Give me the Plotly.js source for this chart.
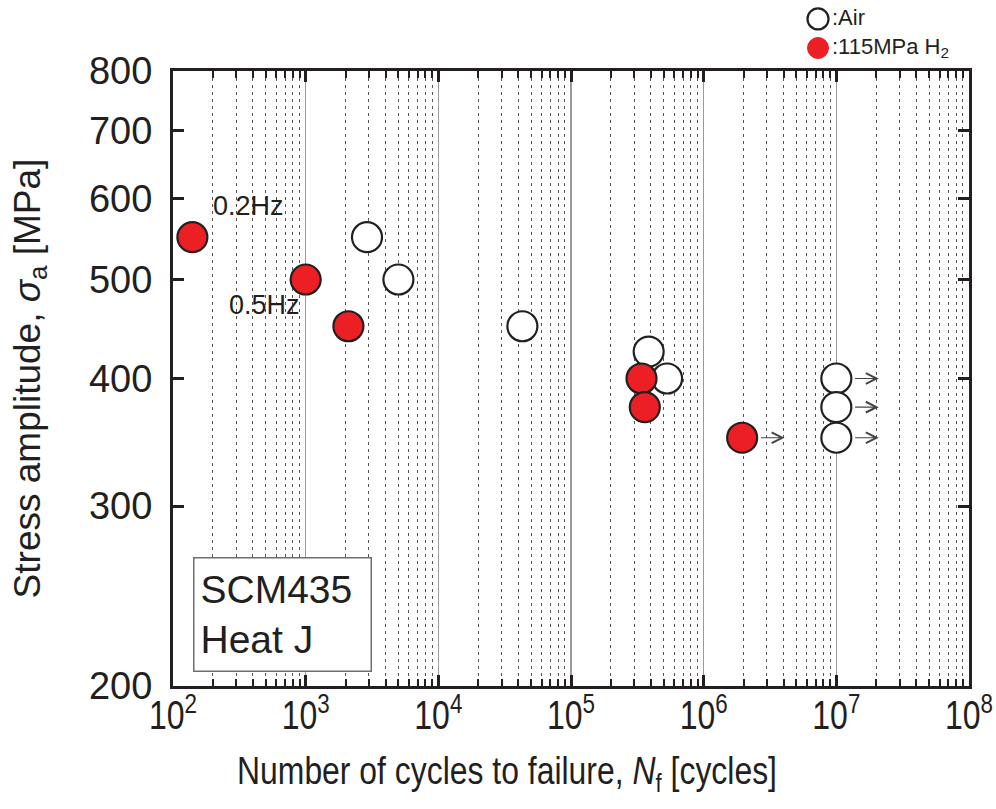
<!DOCTYPE html>
<html>
<head>
<meta charset="utf-8">
<script src="https://cdn.plot.ly/plotly-3.0.1.min.js"></script>
<style>html,body{margin:0;padding:0;background:#fff;}#chart{width:996px;height:809px;}</style>
</head>
<body>
<div id="chart"></div>
<script>
// ---- data ----
const airCycles   = [2900, 5000, 43000, 385000, 530000, 1.0e7, 1.0e7, 1.0e7];
const airStress   = [550, 500, 450, 425, 400, 400, 375, 350];
const airRunout   = [false, false, false, false, false, true, true, true];

const h2Cycles    = [140, 1000, 2100, 340000, 360000, 1.95e6];
const h2Stress    = [550, 500, 450, 400, 375, 350];
const h2Runout    = [false, false, false, false, false, true];

const yTickVals   = [200, 300, 400, 500, 600, 700, 800];
const legendNames = [':Air', ':115MPa H<sub>2</sub>'];
const boxLines    = ['SCM435', 'Heat J'];
const freqLabels  = ['0.2Hz', '0.5Hz'];

const INK = '#231f20';
const RED = '#ec2024';
const SANS = 'Liberation Sans, Arial, Helvetica, sans-serif';

const traces = [
  {x: airCycles, y: airStress, type: 'scatter', mode: 'markers', name: 'Air', showlegend: false,
   marker: {symbol: 'circle', size: 30, color: '#ffffff', line: {color: INK, width: 2.2}}},
  {x: h2Cycles, y: h2Stress, type: 'scatter', mode: 'markers', name: '115MPa H2', showlegend: false,
   marker: {symbol: 'circle', size: 30, color: RED, line: {color: INK, width: 2.2}}}
];

// run-out arrows (annotations on log axes use log10 coordinates)
const annotations = [];
function addRunouts(xs, ys, flags) {
  xs.forEach((n, i) => {
    if (!flags[i]) return;
    const lx = Math.log10(n), ly = Math.log10(ys[i]);
    annotations.push({x: lx + 0.32, y: ly, ax: lx + 0.13, ay: ly, xref: 'x', yref: 'y', axref: 'x', ayref: 'y',
      showarrow: true, arrowhead: 5, arrowsize: 1.9, arrowwidth: 1.1, arrowcolor: '#444', text: ''});
  });
}
addRunouts(airCycles, airStress, airRunout);
addRunouts(h2Cycles, h2Stress, h2Runout);

// frequency labels
annotations.push({xref: 'paper', yref: 'paper', x: 0.048, y: 0.780, xanchor: 'left', yanchor: 'middle', showarrow: false,
  text: freqLabels[0], font: {family: SANS, size: 27, color: INK}});
annotations.push({xref: 'paper', yref: 'paper', x: 0.068, y: 0.6195, xanchor: 'left', yanchor: 'middle', showarrow: false,
  text: freqLabels[1], font: {family: SANS, size: 27, color: INK}});

// material box
annotations.push({xref: 'paper', yref: 'paper', x: 0.025, y: 0.0228, xanchor: 'left', yanchor: 'bottom', showarrow: false,
  text: boxLines.join('<br>'), align: 'left', width: 164, height: 100, borderpad: 6,
  bordercolor: '#6d6e71', borderwidth: 1.5, bgcolor: '#ffffff',
  font: {family: SANS, size: 39, color: INK}});

// legend (outside top right): one text block, two symbol shapes
const legendRowY = [1.0846, 1.0374];
annotations.push({xref: 'paper', yref: 'paper', x: 0.827, y: (legendRowY[0] + legendRowY[1]) / 2,
  xanchor: 'left', yanchor: 'middle', showarrow: false, align: 'left', borderpad: 0,
  text: legendNames.join('<br>'), font: {family: SANS, size: 22, color: INK}});

const shapes = [
  {type: 'circle', xref: 'paper', yref: 'paper', xsizemode: 'pixel', ysizemode: 'pixel',
   xanchor: 0.8103, yanchor: legendRowY[0], x0: -10.5, x1: 10.5, y0: -10.5, y1: 10.5,
   fillcolor: '#ffffff', line: {color: INK, width: 2.2}},
  {type: 'circle', xref: 'paper', yref: 'paper', xsizemode: 'pixel', ysizemode: 'pixel',
   xanchor: 0.8103, yanchor: legendRowY[1], x0: -10.5, x1: 10.5, y0: -10.5, y1: 10.5,
   fillcolor: RED, line: {color: RED, width: 1}}
];

const layout = {
  width: 996, height: 809,
  margin: {l: 173, r: 27, t: 71, b: 123},
  paper_bgcolor: '#ffffff', plot_bgcolor: '#ffffff',
  showlegend: false,
  xaxis: {
    type: 'log', range: [2, 8], autorange: false,
    dtick: 1, exponentformat: 'power', showexponent: 'all',
    ticks: 'inside', ticklen: 11, tickwidth: 3, tickcolor: INK,
    showline: true, linewidth: 3, linecolor: INK, mirror: 'ticks',
    showgrid: true, gridcolor: '#9a9a9a', gridwidth: 1.5,
    zeroline: false, ticklabeloverflow: 'allow',
    tickfont: {family: SANS, size: 32, color: INK},
    ticklabelstandoff: -6,
    minor: {dtick: 'D1', ticks: 'inside', ticklen: 7, tickwidth: 2, tickcolor: INK,
            showgrid: true, gridcolor: '#555555', gridwidth: 1, griddash: '3px,4px'},
    title: {text: 'Number of cycles to failure, <i>N</i><sub>f</sub> [cycles]', standoff: 22,
            font: {family: SANS, size: 38, color: INK}}
  },
  yaxis: {
    type: 'log', range: [Math.log10(200), Math.log10(800)], autorange: false,
    tickvals: yTickVals, ticktext: yTickVals.map(String),
    ticks: 'inside', ticklen: 11, tickwidth: 3, tickcolor: INK,
    showline: true, linewidth: 3, linecolor: INK, mirror: 'ticks',
    showgrid: false, zeroline: false,
    tickfont: {family: SANS, size: 38, color: INK},
    ticklabelstandoff: 10,
    title: {text: 'Stress amplitude, <i>σ</i><sub>a</sub> [MPa]', standoff: 38,
            font: {family: SANS, size: 37, color: INK}}
  },
  annotations: annotations,
  shapes: shapes
};

// condense x-axis texts horizontally (reference uses a narrow face)
function condenseOne(t, s, shift) {
  const cur = t.getAttribute('transform') || '';
  let base = cur;
  if (t.getAttribute('data-cond') === cur && t.hasAttribute('data-base')) base = t.getAttribute('data-base');
  const x = parseFloat(t.getAttribute('x')) || 0;
  const nt = base + ' translate(' + (x + shift) + ',0) scale(' + s + ',1) translate(' + (-x) + ',0)';
  t.setAttribute('data-base', base);
  t.setAttribute('transform', nt);
  t.setAttribute('data-cond', nt);
}
function condense() {
  const gd = document.getElementById('chart');
  gd.querySelectorAll('g.xtick > text').forEach(t => condenseOne(t, 0.8, 0));
  gd.querySelectorAll('text.xtitle').forEach(t => condenseOne(t, 0.84, -64));
}

Plotly.newPlot('chart', traces, layout, {displayModeBar: false, staticPlot: true}).then(gd => {
  condense();
  gd.on('plotly_afterplot', condense);
  setTimeout(condense, 50);
  setTimeout(condense, 300);
});
</script>
</body>
</html>
